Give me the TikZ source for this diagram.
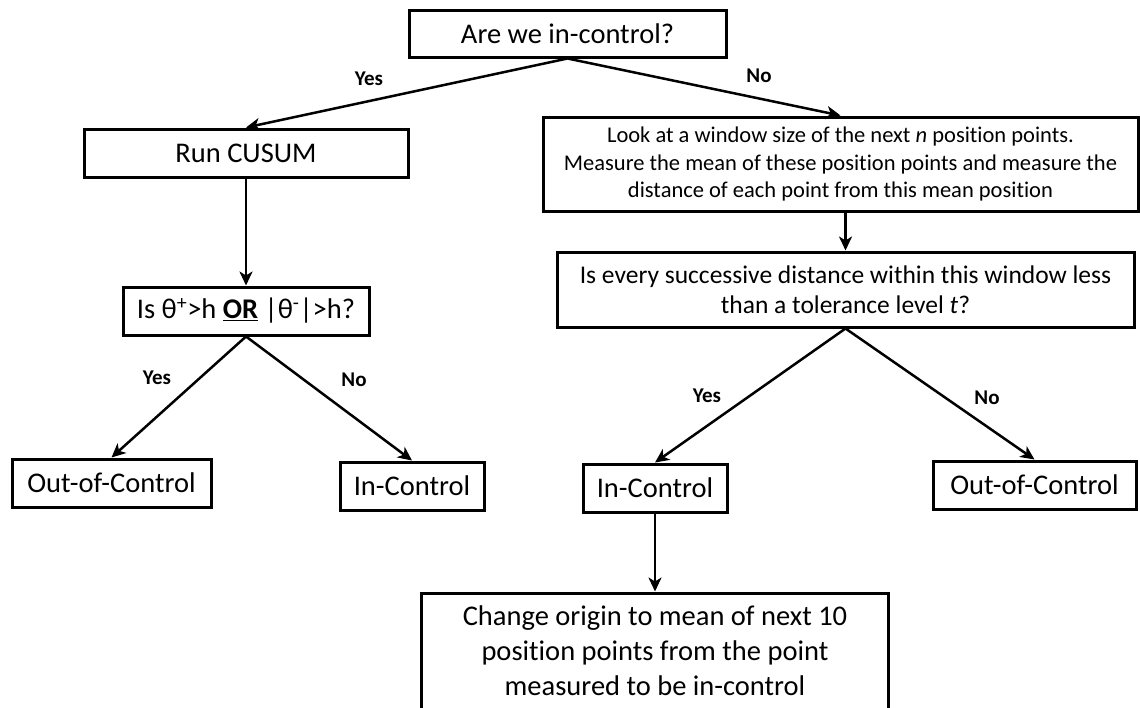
\documentclass[tikz,border=0pt]{standalone}
\usepackage{fontspec}
\setmainfont{Carlito}[Ligatures=NoCommon]
\usepackage{tikz}
\usetikzlibrary{arrows.meta, positioning}

\begin{document}
\begin{tikzpicture}[
  x=1pt, y=-1pt,
  node distance = 40pt and 40pt,
  box/.style   = {rectangle, draw=black, line width=3pt, inner sep=0pt,
                  align=center, font=\fontsize{28.5}{35}\selectfont},
  smallbox/.style = {box, font=\fontsize{22.5}{27.5}\selectfont},
  midbox/.style   = {box, font=\fontsize{25.5}{30}\selectfont},
  arr/.style   = {-{Stealth[length=14pt, width=13pt, inset=4pt]}, line width=2.5pt},
  lbl/.style   = {font=\fontsize{21}{24}\selectfont\bfseries},
]

\useasboundingbox (0,0) rectangle (1140,707);

%% ── Top question ─────────────────────────────────────────────────────────
\node[box, minimum width=317pt, minimum height=47pt] (start) at (567.5,33.5) {Are we in-control?};

%% ── Left branch: CUSUM ───────────────────────────────────────────────────
\node[box, minimum width=324pt, minimum height=48pt] (cusum) at (246,153) {Run CUSUM};
\node[box, minimum width=246pt, minimum height=48pt, below=107pt of cusum] (theta)
  {Is θ\textsuperscript{+}>h \underline{\textbf{OR}} |θ\textsuperscript{-}|>h?};
\node[box, minimum width=199pt, minimum height=48pt] (oocL) at (111.5,483) {Out-of-Control};
\node[box, minimum width=144pt, minimum height=48pt] (icL)  at (412,486)   {In-Control};

%% ── Right branch: window check ───────────────────────────────────────────
\node[smallbox, minimum width=595pt, minimum height=94pt] (window) at (840.5,164)
  {Look at a window size of the next \textit{n} position points.\\
   Measure the mean of these position points and measure the\\
   distance of each point from this mean position};
\node[midbox, minimum width=577pt, minimum height=75pt] (tol) at (845.5,289.5)
  {Is every successive distance within this window less\\
   than a tolerance level \textit{t}?};
\node[box, minimum width=144pt, minimum height=48pt] (icR)  at (655,488)    {In-Control};
\node[box, minimum width=203pt, minimum height=48pt] (oocR) at (1034.5,485) {Out-of-Control};

%% ── Output ───────────────────────────────────────────────────────────────
\node[box, minimum width=467pt, minimum height=116pt, below=78pt of icR] (origin)
  {Change origin to mean of next 10\\
   position points from the point\\
   measured to be in-control};

%% ── Arrows ───────────────────────────────────────────────────────────────
\draw[arr] (start.south) -- (cusum.north);
\draw[arr] (start.south) -- (window.north);
\draw[arr] (cusum)       -- (theta);
\draw[arr] (theta.south) -- (oocL.north);
\draw[arr] (theta.south) -- (icL.north);
\draw[arr] (tol.north |- window.south) -- (tol.north);
\draw[arr] (tol.south)   -- (icR.north);
\draw[arr] (tol.south)   -- (oocR.north);
\draw[arr] (icR)         -- (origin);

%% ── Labels ───────────────────────────────────────────────────────────────
\node[lbl] (yes1) at (369,79)  {Yes};
\node[lbl] (no1)  at (759,76)  {No};
\node[lbl] (yes2) at (157,378) {Yes};
\node[lbl] (no2)  at (354,380) {No};
\node[lbl] (yes3) at (707,396) {Yes};
\node[lbl] (no3)  at (987,398) {No};

\end{tikzpicture}
\end{document}
